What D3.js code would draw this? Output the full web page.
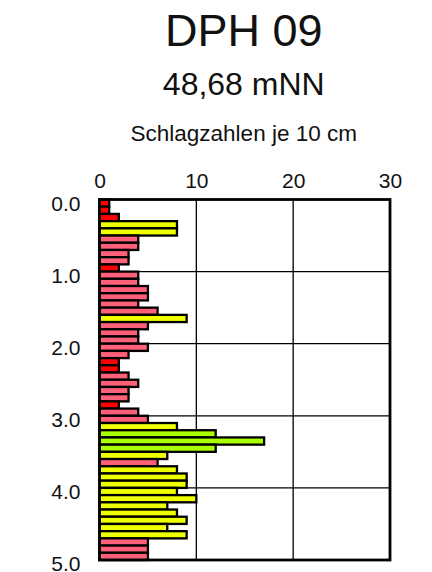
<!DOCTYPE html>
<html>
<head>
<meta charset="utf-8">
<script src="https://cdn.jsdelivr.net/npm/d3@7"></script>
<style>
  body { margin: 0; background: #fff; }
  svg text { font-family: "Liberation Sans", Arial, sans-serif; fill: #111; }
</style>
</head>
<body>
<div id="chart"></div>
<script>
// DPH 09 - Rammsondierung, Schlagzahlen je 10 cm

const title = "DPH 09",
      elevation = "48,68 mNN",
      axisLabel = "Schlagzahlen je 10 cm";

// blows per 10 cm, from 0.0 m down to 5.0 m
const blows = [1, 1, 2, 8, 8, 4, 4, 3, 3, 2,
               4, 4, 5, 5, 4, 6, 9, 5, 4, 4,
               5, 3, 2, 2, 3, 4, 3, 3, 2, 4,
               5, 8, 12, 17, 12, 7, 6, 8, 9, 9,
               8, 10, 7, 8, 9, 7, 9, 5, 5, 5];

const xTicks = [0, 10, 20, 30],
      yTicks = [0, 1, 2, 3, 4, 5];

const classBreaks = [3, 7, 11],
      classColors = ["#ff0000", "#ff6079", "#eeff00", "#aaff00"];

const width = 432, height = 572,
      margin = ({top: 199.5, right: 42, bottom: 12, left: 99.5});

const data = blows.map((b, i) => ({top: i / 10, bottom: (i + 1) / 10, n: b}));

let svg = d3.select("#chart")
    .append("svg")
    .attr("width", width)
    .attr("height", height);

let x = d3.scaleLinear()
    .domain([0, 30])
    .range([margin.left, width - margin.right]);

let y = d3.scaleLinear()
    .domain([0, 5])
    .range([margin.top, height - margin.bottom]);

let color = d3.scaleThreshold()
    .domain(classBreaks)
    .range(classColors);

const cx = (x(0) + x(30)) / 2;

// titles
svg.append("text").attr("x", cx - 1).attr("y", 46)
    .attr("text-anchor", "middle").attr("font-size", 45).text(title);
svg.append("text").attr("x", cx - 1).attr("y", 95)
    .attr("text-anchor", "middle").attr("font-size", 32).text(elevation);
svg.append("text").attr("x", cx - 1).attr("y", 140.5)
    .attr("text-anchor", "middle").attr("font-size", 22.5).text(axisLabel);

// grid
svg.append("g")
    .selectAll("line")
    .data(xTicks.slice(1, -1))
    .join("line")
    .attr("x1", d => x(d)).attr("x2", d => x(d))
    .attr("y1", y(0)).attr("y2", y(5))
    .attr("stroke", "#000").attr("stroke-width", 1.3);

svg.append("g")
    .selectAll("line")
    .data(yTicks.slice(1, -1))
    .join("line")
    .attr("x1", x(0)).attr("x2", x(30))
    .attr("y1", d => y(d)).attr("y2", d => y(d))
    .attr("stroke", "#000").attr("stroke-width", 1.3);

// bars
svg.append("g")
    .selectAll("rect")
    .data(data)
    .join("rect")
    .attr("x", x(0))
    .attr("y", d => y(d.top))
    .attr("width", d => x(d.n) - x(0))
    .attr("height", d => y(d.bottom) - y(d.top))
    .attr("fill", d => color(d.n))
    .attr("stroke", "#000")
    .attr("stroke-width", 2.3);

// frame
svg.append("rect")
    .attr("x", x(0)).attr("y", y(0))
    .attr("width", x(30) - x(0)).attr("height", y(5) - y(0))
    .attr("fill", "none").attr("stroke", "#000").attr("stroke-width", 2.8);

// axes
svg.append("g")
    .attr("transform", `translate(0,${y(0) - 12})`)
    .call(d3.axisTop(x).tickValues(xTicks).tickSize(0).tickPadding(0))
    .call(g => g.select(".domain").remove())
    .call(g => g.selectAll("text").attr("font-size", 21).attr("font-family", null).attr("fill", null));

svg.append("g")
    .attr("transform", `translate(${x(0) - 19},0)`)
    .call(d3.axisLeft(y).tickValues(yTicks).tickFormat(d3.format(".1f")).tickSize(0).tickPadding(0))
    .call(g => g.select(".domain").remove())
    .call(g => g.selectAll("text").attr("font-size", 21).attr("font-family", null).attr("fill", null).attr("dy", "0.5em"));
</script>
</body>
</html>
